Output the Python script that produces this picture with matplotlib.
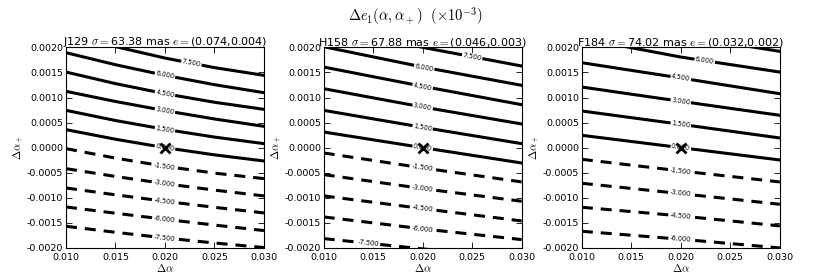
import numpy as np
import matplotlib
matplotlib.use('Agg')
import matplotlib.pyplot as plt
from matplotlib.ticker import FormatStrFormatter, MultipleLocator

plt.rcParams['mathtext.fontset'] = 'cm'
plt.rcParams['font.family'] = ['DejaVu Sans']

# ---------------- data ----------------
levels = [7.5, 6.0, 4.5, 3.0, 1.5, 0.0, -1.5, -3.0, -4.5, -6.0, -7.5]
dalpha = [0.010, 0.015, 0.020, 0.025, 0.030]

names = ['J129', 'H158', 'F184']
sigmas = [63.38, 67.88, 74.02]
e1_vals = [0.074, 0.046, 0.032]
e2_vals = [0.004, 0.003, 0.002]

# Delta alpha_+ (units of 1e-3) where each level line sits, at each dalpha
lines_J129 = [
    [2.279, 2.015, 1.787, 1.596, 1.442],
    [1.894, 1.654, 1.442, 1.256, 1.096],
    [1.508, 1.277, 1.076, 0.905, 0.764],
    [1.123, 0.921, 0.738, 0.572, 0.425],
    [0.744, 0.541, 0.365, 0.211, 0.080],
    [0.359, 0.168, 0.000, -0.144, -0.266],
    [-0.020, -0.209, -0.372, -0.508, -0.618],
    [-0.419, -0.575, -0.718, -0.847, -0.963],
    [-0.804, -0.941, -1.070, -1.190, -1.302],
    [-1.183, -1.308, -1.429, -1.544, -1.654],
    [-1.568, -1.689, -1.801, -1.902, -1.993],
]
lines_H158 = [
    [2.405, 2.202, 2.000, 1.814, 1.628],
    [2.013, 1.810, 1.608, 1.425, 1.243],
    [1.608, 1.415, 1.223, 1.040, 0.857],
    [1.176, 0.993, 0.811, 0.641, 0.472],
    [0.744, 0.574, 0.405, 0.242, 0.080],
    [0.312, 0.156, 0.000, -0.153, -0.306],
    [-0.106, -0.255, -0.405, -0.544, -0.684],
    [-0.538, -0.677, -0.817, -0.943, -1.070],
    [-0.963, -1.089, -1.216, -1.339, -1.462],
    [-1.382, -1.501, -1.621, -1.727, -1.834],
    [-1.814, -1.917, -2.020, -2.116, -2.213],
]
lines_F184 = [
    [2.664, 2.451, 2.239, 2.079, 1.920],
    [2.179, 1.993, 1.807, 1.657, 1.508],
    [1.694, 1.541, 1.389, 1.232, 1.076],
    [1.209, 1.066, 0.924, 0.784, 0.645],
    [0.731, 0.598, 0.465, 0.329, 0.193],
    [0.246, 0.123, 0.000, -0.123, -0.246],
    [-0.233, -0.349, -0.465, -0.574, -0.684],
    [-0.711, -0.814, -0.917, -1.023, -1.130],
    [-1.189, -1.275, -1.362, -1.461, -1.561],
    [-1.668, -1.747, -1.827, -1.913, -2.000],
    [-2.146, -2.212, -2.279, -2.359, -2.439],
]
all_lines = [lines_J129, lines_H158, lines_F184]

fid_x = 0.020
fid_y = 0.0

xlim = (0.010, 0.030)
ylim = (-0.0020, 0.0020)

# ---------------- figure ----------------
fig = plt.figure(figsize=(8.3, 2.77), dpi=100)
lefts = [0.0795, 0.390, 0.701]
bottom, width, height = 0.105, 0.2385, 0.724

fig.text(0.5, 0.943, r'$\Delta e_1(\alpha,\alpha_+)\ \ (\times10^{-3})$',
         ha='center', va='center', fontsize=10.5)

xa = np.array(dalpha)
for i in range(3):
    ax = fig.add_axes([lefts[i], bottom, width, height])
    for lev, ys in zip(levels, all_lines[i]):
        ya = np.array(ys) * 1e-3
        if lev < 0:
            ax.plot(xa, ya, color='k', lw=2.2, ls=(0, (3.6, 2.6)),
                    dash_capstyle='butt', zorder=2)
        else:
            ax.plot(xa, ya, color='k', lw=2.2, zorder=2)
        # label at the middle of the visible part of the line
        xd = np.linspace(xlim[0], xlim[1], 801)
        yd = np.interp(xd, xa, ya)
        vis = (yd <= ylim[1]) & (yd >= ylim[0])
        if vis.sum() < 2:
            continue
        x0, x1 = xd[vis].min(), xd[vis].max()
        if x1 - x0 < 0.005:
            continue
        xm = 0.5 * (x0 + x1)
        ym = np.interp(xm, xa, ya)
        slope = (np.interp(xm + 1e-4, xa, ya) - np.interp(xm - 1e-4, xa, ya)) / 2e-4
        ang = np.degrees(np.arctan2(slope, 1.0))
        ax.text(xm, ym, '%1.3f' % lev, fontsize=4.8, ha='center', va='center',
                rotation=ang, transform_rotates_text=True, rotation_mode='anchor',
                bbox=dict(fc='white', ec='none', pad=0.6), zorder=3)
    ax.plot([fid_x], [fid_y], marker='x', color='k', ms=6.5, mew=2.0, zorder=4)

    ax.set_xlim(*xlim)
    ax.set_ylim(*ylim)
    ax.xaxis.set_major_locator(MultipleLocator(0.005))
    ax.yaxis.set_major_locator(MultipleLocator(0.0005))
    ax.xaxis.set_major_formatter(FormatStrFormatter('%.3f'))
    ax.yaxis.set_major_formatter(FormatStrFormatter('%.4f'))
    ax.tick_params(direction='in', top=True, right=True, labelsize=6.8,
                   length=4, width=0.6)
    ax.tick_params(axis='y', pad=2)
    ax.tick_params(axis='x', pad=3.5)
    for sp in ax.spines.values():
        sp.set_linewidth(0.8)
    ax.set_xlabel(r'$\Delta\alpha$', fontsize=8, labelpad=0)
    ax.set_ylabel(r'$\Delta\alpha_+$', fontsize=8, labelpad=1)
    ax.set_title('%s $\\sigma=$%.2f mas $e=$(%.3f,%.3f)'
                 % (names[i], sigmas[i], e1_vals[i], e2_vals[i]),
                 fontsize=8, pad=1.5)

fig.savefig('out.png', dpi=100)
